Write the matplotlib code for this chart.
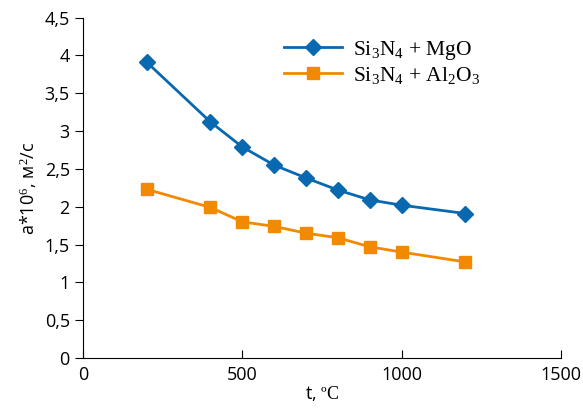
import numpy as np
import matplotlib
matplotlib.use("Agg")
from matplotlib import pyplot as plt

# температура, ºC
t = [200, 400, 500, 600, 700, 800, 900, 1000, 1200]
# температуропроводность a*10^6, м2/с
a_mgo = [3.91, 3.12, 2.79, 2.55, 2.38, 2.22, 2.09, 2.02, 1.91]
a_al2o3 = [2.23, 1.99, 1.80, 1.74, 1.65, 1.59, 1.47, 1.40, 1.27]

x_ticks = [0, 500, 1000, 1500]
y_ticks = [0, 0.5, 1, 1.5, 2, 2.5, 3, 3.5, 4, 4.5]

plt.rcParams['font.family'] = ['Open Sans', 'DejaVu Sans']
plt.rcParams['mathtext.fontset'] = 'custom'
plt.rcParams['mathtext.rm'] = 'Liberation Serif'
plt.rcParams['mathtext.it'] = 'Liberation Serif:italic'

fig = plt.figure(figsize=(5.83, 4.18), dpi=100)
ax = fig.add_axes([0.1424, 0.1435, 0.8196, 0.8145])

ax.plot(t, a_mgo, color='#0868b0', marker='D', markersize=8, linewidth=2,
        label=r'Si$_3$N$_4$ + MgO')
ax.plot(t, a_al2o3, color='#f18a00', marker='s', markersize=8, linewidth=2,
        label=r'Si$_3$N$_4$ + Al$_2$O$_3$')

ax.set_xlim(0, 1500)
ax.set_ylim(0, 4.5)
ax.set_xticks(x_ticks)
ax.set_xticklabels([str(v) for v in x_ticks])
ax.set_yticks(y_ticks)
ax.set_yticklabels([('%g' % v).replace('.', ',') for v in y_ticks])

ax.spines['top'].set_visible(False)
ax.spines['right'].set_visible(False)
ax.tick_params(axis='x', direction='in', length=6, labelsize=13, pad=6)
ax.tick_params(axis='y', direction='out', length=6, labelsize=13)

ax.set_xlabel(r't, $\mathrm{ºC}$', fontsize=13, labelpad=0)
ax.set_ylabel('a*10$^{6}$, м$^{2}$/с', fontsize=13, labelpad=4)

leg = ax.legend(loc='upper left', bbox_to_anchor=(0.38, 0.995), frameon=False,
                prop={'family': 'Liberation Serif', 'size': 15.5},
                handlelength=2.7, handletextpad=0.5, labelspacing=0.15)

plt.savefig('out.png', dpi=100)
